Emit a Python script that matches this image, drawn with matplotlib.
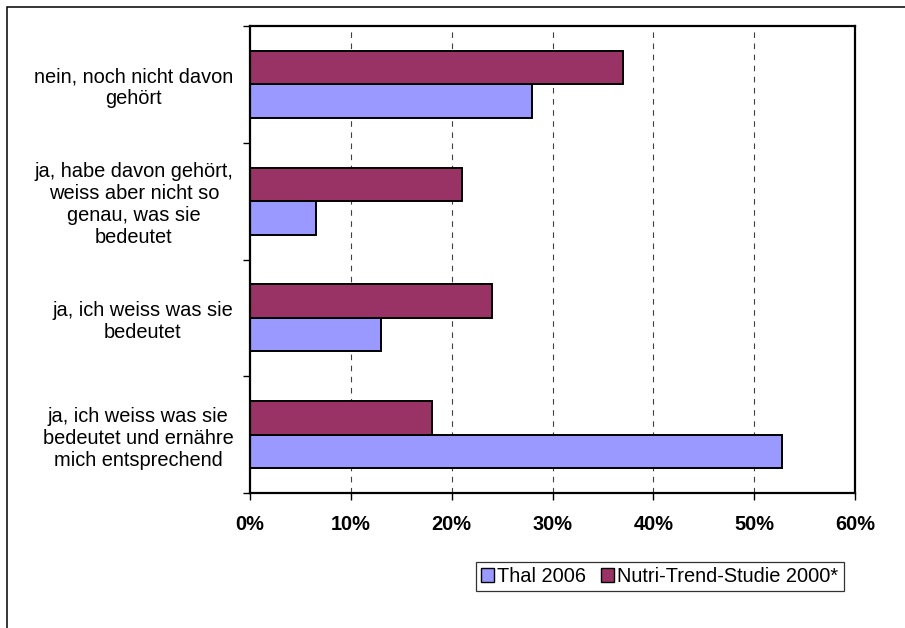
import numpy as np
import matplotlib
matplotlib.use('Agg')
import matplotlib.pyplot as plt
from matplotlib.patches import Rectangle
from matplotlib.ticker import FixedLocator, PercentFormatter

# categories, top to bottom
categories = [
    'nein, noch nicht davon\ngehört',
    'ja, habe davon gehört,\nweiss aber nicht so\ngenau, was sie\nbedeutet',
    'ja, ich weiss was sie\nbedeutet',
    'ja, ich weiss was sie\nbedeutet und ernähre\nmich entsprechend',
]
thal_2006 = [28, 6.5, 13, 52.8]
nutri_2000 = [37, 21, 24, 18]
x_ticks = [0, 10, 20, 30, 40, 50, 60]

plt.rcParams['font.family'] = ['Liberation Sans', 'DejaVu Sans']
fs = 14.4

fig = plt.figure(figsize=(9.05, 6.28), dpi=100)
fig.patch.set_facecolor('white')

# outer chart frame (cut off at right and bottom)
fig.patches.append(Rectangle((6.5 / 905, -0.1), 1.2, 1.1 - 7 / 628,
                             transform=fig.transFigure, fill=False,
                             edgecolor='black', linewidth=1.1, zorder=0))

ax = fig.add_axes([250 / 905, 1 - 493 / 628, 605 / 905, 467 / 628])

y = np.arange(len(categories))
h = 0.286
bars_thal = ax.barh(y + h / 2, thal_2006, height=h, color='#9999FF',
                    edgecolor='black', linewidth=1.4, zorder=3, label='Thal 2006')
bars_nutri = ax.barh(y - h / 2, nutri_2000, height=h, color='#993366',
                     edgecolor='black', linewidth=1.4, zorder=3,
                     label='Nutri-Trend-Studie 2000*')

ax.set_xlim(0, 60)
ax.set_ylim(len(categories) - 0.5, -0.5)

ax.set_xticks(x_ticks)
ax.xaxis.set_major_formatter(PercentFormatter(decimals=0))
for lab in ax.get_xticklabels():
    lab.set_fontweight('bold')
ax.tick_params(axis='x', direction='out', length=5, width=1, pad=11,
               labelsize=fs, color='black')

ax.set_yticks(y)
ax.set_yticklabels(categories, fontsize=fs, multialignment='center',
                   linespacing=1.2)
ax.tick_params(axis='y', which='major', length=0, pad=12)
ax.yaxis.set_minor_locator(FixedLocator(np.arange(-0.5, len(categories), 1)))
ax.tick_params(axis='y', which='minor', direction='out', length=5, width=1,
               color='black')

# dashed vertical grid
for v in x_ticks[1:-1]:
    ax.axvline(v, color='#404040', linewidth=0.8, linestyle=(0, (5, 5)),
               zorder=1)

for s in ax.spines.values():
    s.set_linewidth(1.6)
    s.set_color('black')
    s.set_zorder(4)

leg = fig.legend(handles=[bars_thal, bars_nutri], loc='center',
                 bbox_to_anchor=(660 / 905, 1 - 576.5 / 628), ncol=2,
                 fontsize=fs, frameon=True, fancybox=False, shadow=False,
                 handlelength=0.65, handleheight=0.65, handletextpad=0.15,
                 columnspacing=0.75, borderpad=0.25, borderaxespad=0)
leg.get_frame().set_edgecolor('black')
leg.get_frame().set_linewidth(0.9)
for p in leg.get_patches():
    p.set_linewidth(1.0)

fig.savefig('out.png', dpi=100)
